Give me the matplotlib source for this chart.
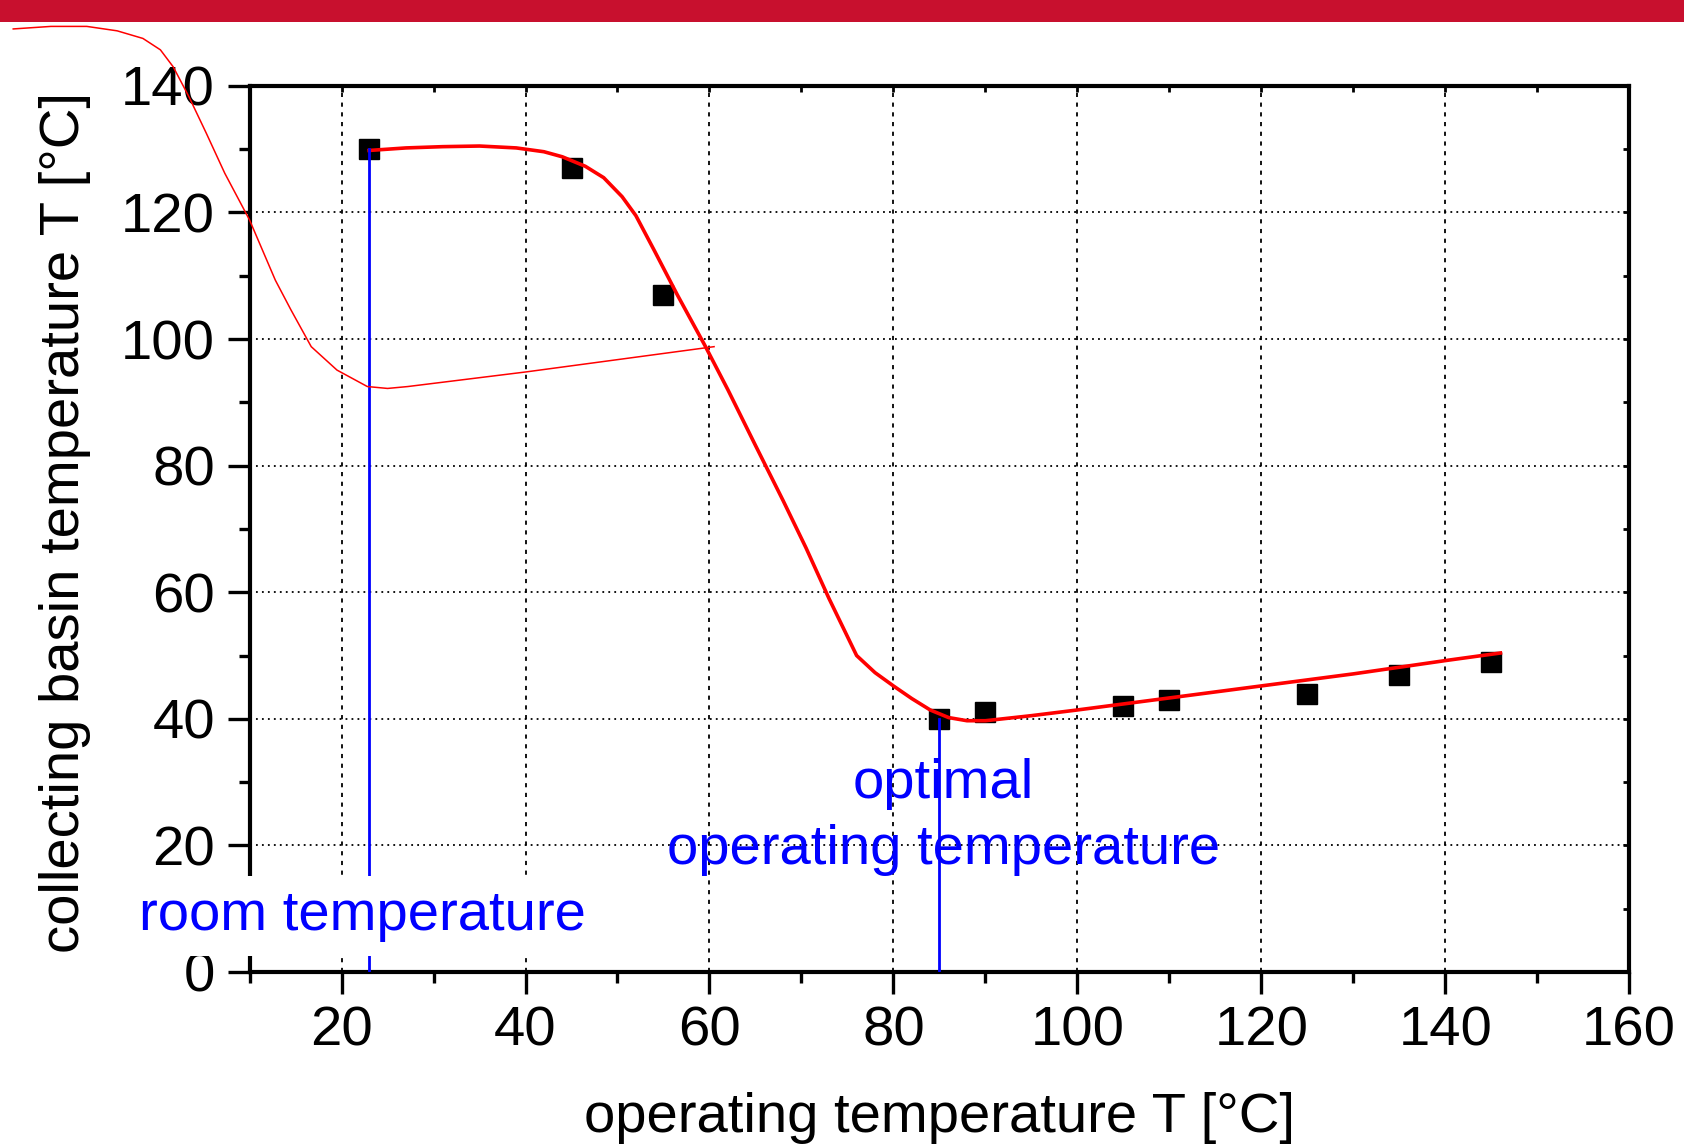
import matplotlib
matplotlib.use('Agg')
import matplotlib.pyplot as plt
from matplotlib.patches import Rectangle
from matplotlib.ticker import MultipleLocator

# measured points
op_temp = [23, 45, 55, 85, 90, 105, 110, 125, 135, 145]
basin_temp = [130, 127, 107, 40, 41, 42, 43, 44, 47, 49]

# fitted curve
fit_x = [23, 27, 31, 35, 39, 42, 44, 46.5, 48.5, 50.5, 52, 54, 56.5, 59.5, 62, 65,
         68, 70.5, 73, 76, 78, 80, 82, 84, 86, 88, 90, 95, 100, 110, 120, 130, 140, 146]
fit_y = [129.8, 130.2, 130.4, 130.5, 130.2, 129.6, 128.8, 127.3, 125.5, 122.5, 119.5,
         114, 107, 99, 92, 83.2, 74.5, 67, 59, 50, 47.3, 45.2, 43.2, 41.4, 40.2, 39.7,
         39.7, 40.5, 41.4, 43.3, 45.2, 47.1, 49.2, 50.4]

# thin hand-drawn line over the slide
sketch_x = [-15.7, -11.6, -7.7, -4.4, -1.6, 0.3, 1.7, 3.4, 5.3, 7.3, 10.0, 12.8, 14.5,
            16.7, 19.5, 22.8, 25.0, 27.2, 40.0, 60.5]
sketch_y = [149.0, 149.4, 149.4, 148.7, 147.5, 145.7, 143.0, 138.3, 132.5, 126.2, 118.8,
            109.3, 104.6, 98.8, 95.1, 92.5, 92.2, 92.5, 94.8, 98.8]

# vertical markers: room temperature and optimal operating temperature
mark_x = [23, 85]
mark_top = [130, 40]

x_ticks = [20, 40, 60, 80, 100, 120, 140, 160]
y_ticks = [0, 20, 40, 60, 80, 100, 120, 140]

plt.rcParams['font.family'] = ['Liberation Sans', 'DejaVu Sans']
plt.rcParams['font.size'] = 40.5
plt.rcParams['lines.scale_dashes'] = False

fig = plt.figure(figsize=(16.84, 11.44), dpi=100)
W, H = 1684, 1144
ax = fig.add_axes([249.6 / W, 1 - 972 / H, 1379.6 / W, 886.1 / H])

# red header bar
fig.patches.append(Rectangle((0, 1 - 22 / H), 1, 22 / H, transform=fig.transFigure,
                             facecolor='#c8102e', edgecolor='none'))

ax.set_xlim(10, 160)
ax.set_ylim(0, 140)
ax.set_xticks(x_ticks)
ax.set_yticks(y_ticks)
ax.xaxis.set_minor_locator(MultipleLocator(10))
ax.yaxis.set_minor_locator(MultipleLocator(10))

ax.xaxis.grid(True, which='major', color='black', linewidth=1.3, linestyle=(0, (3, 4)))
ax.yaxis.grid(True, which='major', color='black', linewidth=1.3, linestyle=(0, (1.3, 3.0)))
ax.set_axisbelow(True)

ax.tick_params(which='major', direction='out', length=16, width=2.4, pad=8)
ax.tick_params(which='minor', direction='out', length=8, width=2.4)
ax.tick_params(axis='y', which='major', pad=9)
for s in ax.spines.values():
    s.set_linewidth(3)

# small inward ticks on top and right
top = ax.secondary_xaxis('top')
top.set_xticks(list(range(10, 161, 10)))
top.tick_params(direction='in', length=4, width=2, labeltop=False)
right = ax.secondary_yaxis('right')
right.set_yticks(list(range(0, 141, 10)))
right.tick_params(direction='in', length=4, width=2, labelright=False)

ax.plot(op_temp, basin_temp, 's', color='black', markersize=14, zorder=3)
ax.plot(fit_x, fit_y, color='red', linewidth=2.6, zorder=4)
for xm, ym in zip(mark_x, mark_top):
    ax.plot([xm, xm], [0, ym], color='blue', linewidth=2, zorder=5)

ax.plot(sketch_x, sketch_y, color='red', linewidth=1.1, clip_on=False, zorder=6)

ax.text(22.3, 6.6, 'room temperature', color='blue', ha='center', va='baseline',
        bbox=dict(facecolor='white', edgecolor='none', boxstyle='square,pad=0.25'),
        zorder=10, clip_on=False)
ax.text(85.4, 27.5, 'optimal', color='blue', ha='center', va='baseline', zorder=7)
ax.text(85.4, 17.0, 'operating temperature', color='blue', ha='center', va='baseline', zorder=7)

ax.set_xlabel('operating temperature T [°C]')
ax.set_ylabel('collecting basin temperature T [°C]')
ax.xaxis.set_label_coords(0.5, -0.135)
ax.yaxis.set_label_coords(-0.115, 0.507)

fig.savefig('out.png', dpi=100)
